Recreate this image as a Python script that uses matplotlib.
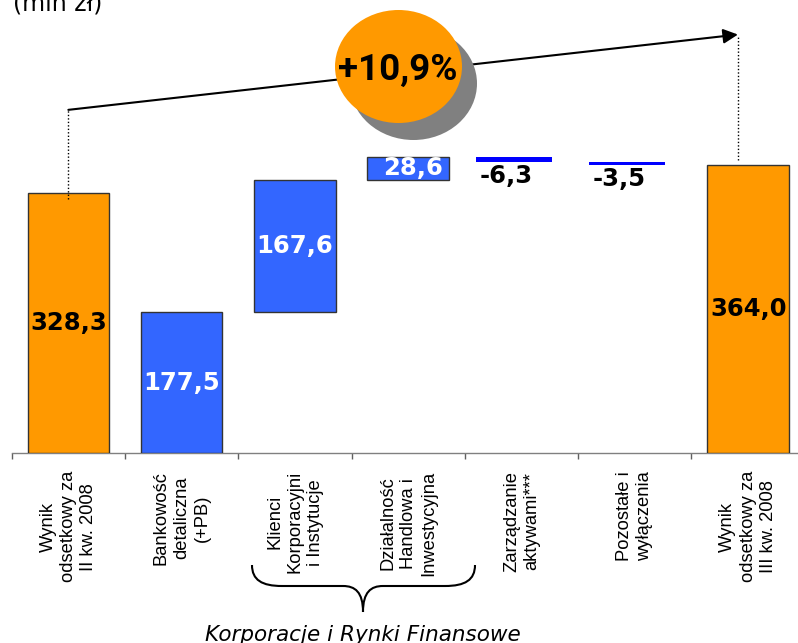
import matplotlib
matplotlib.use('Agg')
import matplotlib.pyplot as plt
import matplotlib.transforms as mtransforms
from matplotlib.patches import Ellipse, PathPatch
from matplotlib.path import Path

# ---------------- data ----------------
categories = ["Wynik\nodsetkowy za\nII kw. 2008",
              "Bankowość\ndetaliczna\n(+PB)",
              "Klienci\nKorporacyjni\ni Instytucje",
              "Działalność\nHandlowa i\nInwestycyjna",
              "Zarządzanie\naktywami***",
              "Pozostałe i\nwyłączenia",
              "Wynik\nodsetkowy za\nIII kw. 2008"]
values = [328.3, 177.5, 167.6, 28.6, -6.3, -3.5, 364.0]
value_labels = ["328,3", "177,5", "167,6", "28,6", "-6,3", "-3,5", "364,0"]
kinds = ["total", "delta", "delta", "delta", "delta", "delta", "total"]
growth_label = "+10,9%"
unit_label = "(mln zł)"
group_label = "Korporacje i Rynki Finansowe"

# ---------------- figure ----------------
W, H = 798, 643
fig = plt.figure(figsize=(W / 100, H / 100), dpi=100)
px_per_unit = 0.7925
base_px = 453.0
ax = fig.add_axes([11.7 / W, (H - base_px) / H, 793.1 / W, base_px / H])
ax.set_xlim(-0.5, 6.5)
ax.set_ylim(0, base_px / px_per_unit)

# pixel transform (origin top-left)
px = mtransforms.Affine2D().scale(1 / W, -1 / H).translate(0, 1) + fig.transFigure

ORANGE = "#FF9900"
BLUE = "#3366FF"
NEG_BLUE = "#0000FF"
EDGE = "#333333"

running = 0.0
bars = []
for i, (v, k) in enumerate(zip(values, kinds)):
    if k == "total":
        bottom, height = 0.0, v
        ax.bar(i, height, bottom=bottom, width=0.72, color=ORANGE,
               edgecolor=EDGE, linewidth=1.0, zorder=3)
    else:
        if v >= 0:
            bottom, height = running, v
            ax.bar(i, height, bottom=bottom, width=0.72, color=BLUE,
                   edgecolor=EDGE, linewidth=1.0, zorder=3)
        else:
            bottom, height = running + v, -v
            ax.bar(i - 0.07, height, bottom=bottom, width=0.67, color=NEG_BLUE,
                   edgecolor='none', linewidth=0, zorder=3)
        running += v
    bars.append((i, bottom, height, k, v))

# value labels
for (i, bottom, height, k, v), lab in zip(bars, value_labels):
    if k == "total":
        ax.text(i, bottom + height / 2, lab, ha='center', va='center',
                fontsize=17.5, fontweight='bold', color='black',
                family='DejaVu Sans', zorder=5)
    elif v >= 0:
        dx = 0.04 if height < 40 else 0.0
        ax.text(i + dx, bottom + height / 2, lab, ha='center', va='center',
                fontsize=17.5, fontweight='bold', color='white',
                family='DejaVu Sans', zorder=5)
    else:
        ax.text(i - 0.14, bottom - 3, lab, ha='center', va='top',
                fontsize=17.5, fontweight='bold', color='black',
                family='DejaVu Sans', zorder=5)

# axes styling
for s in ['top', 'right', 'left']:
    ax.spines[s].set_visible(False)
ax.spines['bottom'].set_color('#808080')
ax.spines['bottom'].set_linewidth(1.0)
ax.set_yticks([])
ax.set_xticks(range(len(categories)))
ax.set_xticklabels(categories, rotation=90, ha='center', va='top',
                   multialignment='center', family='Liberation Sans',
                   fontsize=13.2, linespacing=1.25)
ax.tick_params(axis='x', which='major', length=0, pad=13)
ax.set_xticks([x - 0.5 for x in range(len(categories) + 1)], minor=True)
ax.tick_params(axis='x', which='minor', length=4, width=1, color='#606060',
               direction='out')

# connecting arrow and dotted drops
y_start = 433.0
y_end = 528.0
x_end = 5.91
ax.plot([0, 0], [values[0] - 8, y_start], linestyle=(0, (1, 1.5)), color='black',
        linewidth=1.0, zorder=4, clip_on=False)
ax.plot([x_end, x_end], [values[-1] + 6, y_end], linestyle=(0, (1, 1.5)),
        color='black', linewidth=1.0, zorder=4, clip_on=False)
ax.annotate("", xy=(x_end, y_end), xytext=(0, y_start),
            arrowprops=dict(arrowstyle='-|>', color='black', lw=1.5,
                            mutation_scale=22, shrinkA=0, shrinkB=0),
            zorder=4, annotation_clip=False)

# growth bubble
shadow = Ellipse((413.5, 83.5), 127, 113, facecolor='#808080',
                 edgecolor='none', transform=px, zorder=6)
bubble = Ellipse((398.5, 66.5), 127, 113, facecolor=ORANGE,
                 edgecolor='none', transform=px, zorder=7)
fig.add_artist(shadow)
fig.add_artist(bubble)
fig.text(398 / W, 1 - 70 / H, growth_label, ha='center', va='center',
         family='Roboto', fontweight='bold', fontsize=26.5, color='black',
         zorder=8)

# unit label
fig.text(13 / W, 1 - 10 / H, unit_label, ha='left', va='baseline',
         family='DejaVu Sans', fontsize=17, color='black')

# brace
verts = [(252, 565), (252, 580), (262, 586), (282, 586),
         (343, 586),
         (355, 586), (363, 592), (363, 612),
         (363, 592), (371, 586), (383, 586),
         (445, 586),
         (465, 586), (475, 580), (475, 565)]
codes = [Path.MOVETO, Path.CURVE4, Path.CURVE4, Path.CURVE4,
         Path.LINETO,
         Path.CURVE4, Path.CURVE4, Path.CURVE4,
         Path.CURVE4, Path.CURVE4, Path.CURVE4,
         Path.LINETO,
         Path.CURVE4, Path.CURVE4, Path.CURVE4]
brace = PathPatch(Path(verts, codes), facecolor='none', edgecolor='black',
                  linewidth=1.5, transform=px)
fig.add_artist(brace)
fig.text(363 / W, 1 - 641 / H, group_label, ha='center', va='baseline',
         family='DejaVu Sans', style='italic', fontsize=15.5, color='black')

fig.savefig('out.png', dpi=100)
